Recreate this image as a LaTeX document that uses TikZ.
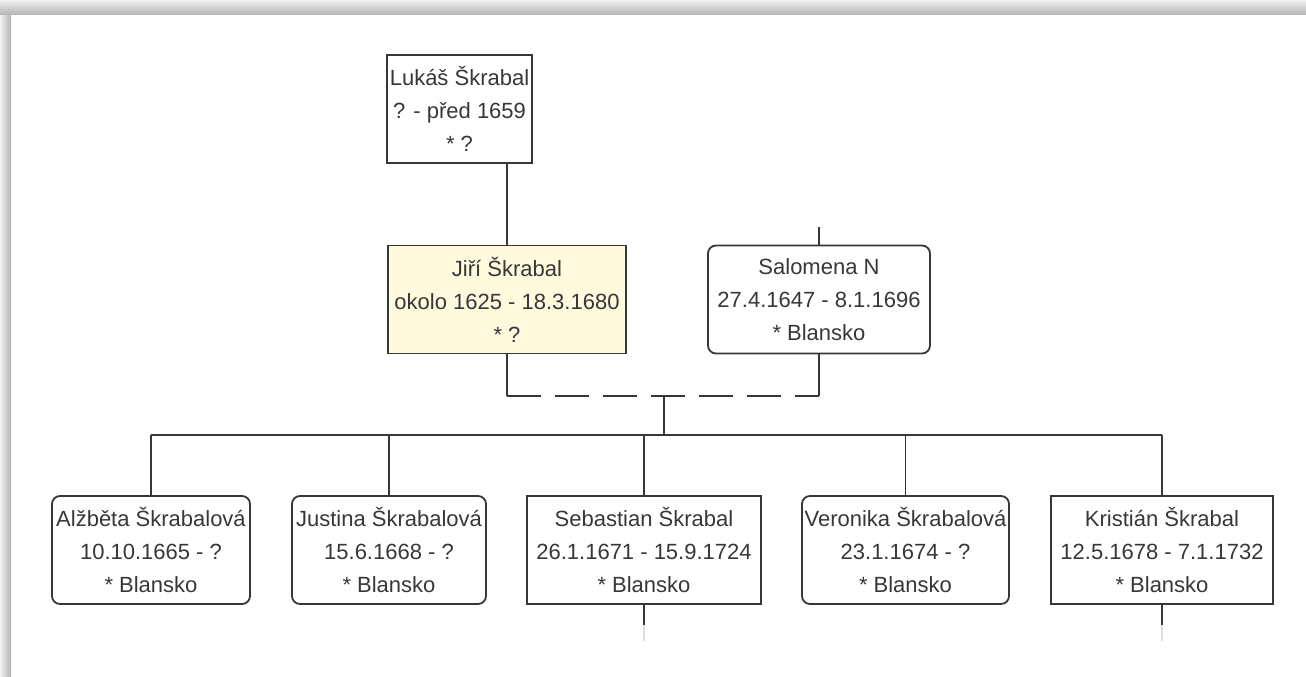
\documentclass[tikz,border=0pt]{standalone}
\usepackage{fontspec}
\setmainfont{Liberation Sans}
\usepackage{tikz}
\definecolor{cream}{RGB}{255,250,222}
\definecolor{ink}{RGB}{55,55,55}

\begin{document}
\begin{tikzpicture}[x=1pt,y=-1pt,
    person/.style={draw=ink,line width=1.8pt,text=ink,align=center,inner sep=0pt,
      minimum height=108pt,font=\fontsize{22}{33}\selectfont},
    female/.style={person,rounded corners=8pt},
    link/.style={draw=ink,line width=1.8pt}]
          \useasboundingbox (0,0) rectangle (1306,677);
          \shade[left color=gray!10,right color=gray!60] (0,0) rectangle (11,677);
          \shade[top color=gray!12,bottom color=gray!60] (0,0) rectangle (1306,15);

          \node[person,minimum width=145pt] (lukas) at (459.5,109) {Lukáš Škrabal\\? - před 1659\\* ?};
          \node[person,fill=cream,minimum width=238pt] (jiri) at (507,299.5) {Jiří Škrabal\\okolo 1625 - 18.3.1680\\* ?};
          \node[female,minimum width=222pt] (salomena) at (819,299.5) {Salomena N\\27.4.1647 - 8.1.1696\\* Blansko};

          \node[female,minimum width=198pt] (alzbeta) at (151,550) {Alžběta Škrabalová\\10.10.1665 - ?\\* Blansko};
          \node[female,minimum width=194pt] (justina) at (389,550) {Justina Škrabalová\\15.6.1668 - ?\\* Blansko};
          \node[person,minimum width=234pt] (sebastian) at (644,550) {Sebastian Škrabal\\26.1.1671 - 15.9.1724\\* Blansko};
          \node[female,minimum width=207pt] (veronika) at (905.5,550) {Veronika Škrabalová\\23.1.1674 - ?\\* Blansko};
          \node[person,minimum width=222pt] (kristian) at (1162,550) {Kristián Škrabal\\12.5.1678 - 7.1.1732\\* Blansko};

          \coordinate (marriage) at (664,396);
          \coordinate (kids) at (664,435);

          \draw[link] (lukas.south -| jiri.north) -- (jiri.north);
          \draw[link] (salomena.north) -- ++(0,-18);
          \draw[link] (jiri.south) -- (jiri.south |- marriage);
          \draw[link,dash pattern=on 34pt off 14pt] (jiri.south |- marriage) -- (salomena.south |- marriage);
          \draw[link] (salomena.south |- marriage) -- (salomena.south);
          \draw[link] (marriage) -- (kids);
          \draw[link] (kids -| alzbeta.north) -- (kids -| kristian.north);

          \foreach \n in {alzbeta,justina,sebastian,veronika,kristian} {
            \draw[link] (\n.north) -- (\n.north |- kids);
          }
          \foreach \n in {sebastian,kristian} {
            \draw[link] (\n.south) -- ++(0,20);
            \draw[gray!25,line width=1.5pt] (\n.south) ++(0,20) -- ++(0,16);
          }
        \end{tikzpicture}
\end{document}
